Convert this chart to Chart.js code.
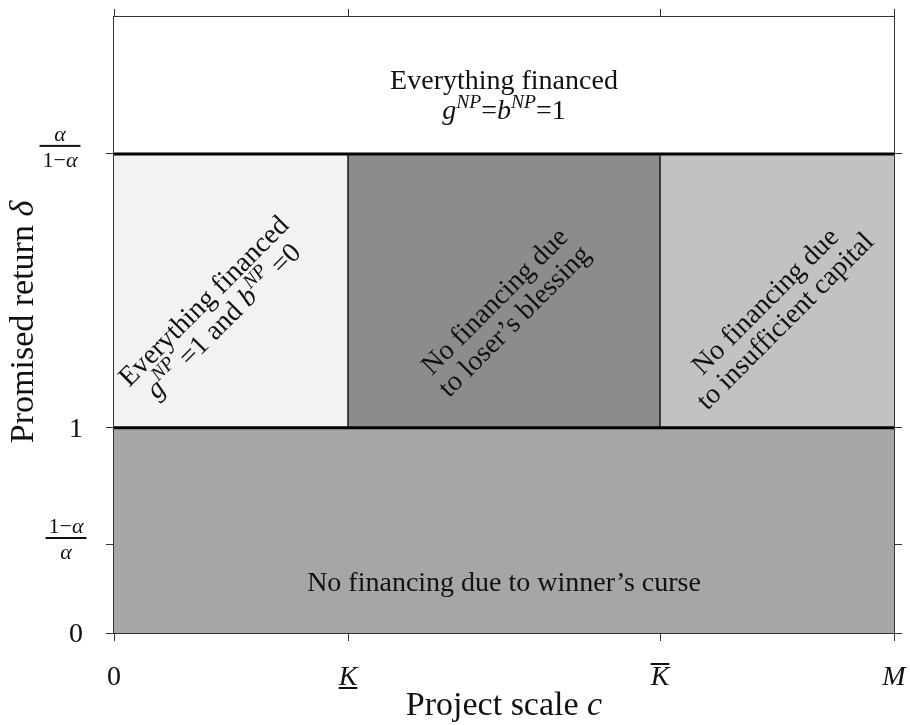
<!DOCTYPE html>
<html>
<head>
<meta charset="utf-8">
<script src="https://cdn.jsdelivr.net/npm/chart.js@4.4.0/dist/chart.umd.min.js"></script>
<style>
html, body { margin: 0; padding: 0; background: #fff; }
</style>
</head>
<body>
<canvas id="myChart" width="910" height="725"></canvas>
<script>
// axis ticks (M = 1, alpha = 0.7)
let xTicks = [0, 0.3, 0.7, 1];
let xTickNames = ['0', 'K', 'K', 'M'];
let yTicks = [0, 0.4286, 1, 2.3333];
let yTickNames = ['0', '(1-a)/a', '1', 'a/(1-a)'];

// regions: top, left, middle, right, bottom
let regionLeft = [0, 0, 0.3, 0.7, 0];
let regionRight = [1, 0.3, 0.7, 1, 1];
let regionBottom = [2.3333, 1, 1, 1, 0];
let regionTop = [3, 2.3333, 2.3333, 2.3333, 1];

let boundaryY = [1, 2.3333];
let boundaryX = [0.3, 0.7];

let regionColors = ['#ffffff', '#f2f2f2', '#8c8c8c', '#c2c2c2', '#a6a6a6'];

const serif = '"Liberation Serif", "DejaVu Serif", serif';

// region labels as runs of text: [text, italic, superscript]
let regionText = [
    [[['Everything financed']], [['g', 1], ['NP', 1, 1], ['='], ['b', 1], ['NP', 1, 1], ['=1']]],
    [[['Everything financed']], [['g', 1], ['NP', 1, 1], [' =1 and '], ['b', 1], ['NP', 1, 1], [' =0']]],
    [[['No financing due']], [['to loser\u2019s blessing']]],
    [[['No financing due']], [['to insufficient capital']]],
    [[['No financing due to winner\u2019s curse']]]
];
let labelAt = [
    { x: 0.5, y: 2.62, rot: 0, gap: 30 },
    { x: 0.127, y: 1.57, rot: -45, gap: 28 },
    { x: 0.5, y: 1.57, rot: -45, gap: 28 },
    { x: 0.847, y: 1.57, rot: -45, gap: 28 },
    { x: 0.5, y: 0.25, rot: 0, gap: 0 }
];

function fontFor(run, size) {
    let s = run[2] ? size * 0.7 : size;
    return (run[1] ? 'italic ' : '') + s + 'px ' + serif;
}

function runsWidth(ctx, runs, size) {
    let w = 0;
    runs.forEach(r => { ctx.font = fontFor(r, size); w += ctx.measureText(r[0]).width; });
    return w;
}

function drawRuns(ctx, runs, x, y, size) {
    let w = runsWidth(ctx, runs, size);
    let cx = x - w / 2;
    ctx.textAlign = 'left';
    ctx.textBaseline = 'alphabetic';
    runs.forEach(r => {
        ctx.font = fontFor(r, size);
        let base = y + size * 0.33 - (r[2] ? size * 0.42 : 0);
        ctx.fillText(r[0], cx, base);
        cx += ctx.measureText(r[0]).width;
    });
}

function drawFrac(ctx, top, bottom, x, y, size) {
    let wt = runsWidth(ctx, top, size);
    let wb = runsWidth(ctx, bottom, size);
    let w = Math.max(wt, wb) + 6;
    ctx.fillRect(x - w / 2, y - 1, w, 2);
    drawRuns(ctx, top, x, y - size * 0.55, size);
    drawRuns(ctx, bottom, x, y + size * 0.62, size);
}

const labelPlugin = {
    id: 'labelPlugin',
    afterDraw(chart) {
        let ctx = chart.ctx;
        let xs = chart.scales.x;
        let ys = chart.scales.y;
        let area = chart.chartArea;
        ctx.save();
        ctx.fillStyle = '#111';

        // region texts
        regionText.forEach((lines, i) => {
            let p = labelAt[i];
            ctx.save();
            ctx.translate(xs.getPixelForValue(p.x), ys.getPixelForValue(p.y));
            ctx.rotate(p.rot * Math.PI / 180);
            lines.forEach((runs, j) => {
                let dy = (j - (lines.length - 1) / 2) * p.gap;
                drawRuns(ctx, runs, 0, dy, 28);
            });
            ctx.restore();
        });

        // x tick labels
        let ty = 676;
        xTicks.forEach((v, i) => {
            let px = xs.getPixelForValue(v);
            let name = xTickNames[i];
            let italic = name !== '0';
            drawRuns(ctx, [[name, italic]], px, ty, 28);
            if (i === 1 || i === 2) {
                ctx.font = 'italic 28px ' + serif;
                let w = ctx.measureText(name).width;
                let ly = i === 1 ? ty + 11 : ty - 13;
                ctx.fillRect(px - w / 2, ly, w, 2);
            }
        });

        // y tick labels
        yTicks.forEach((v, i) => {
            let py = ys.getPixelForValue(v);
            if (i === 0 || i === 2) {
                drawRuns(ctx, [[yTickNames[i]]], area.left - 38, py, 28);
            } else if (i === 1) {
                drawFrac(ctx, [['1\u2212'], ['\u03b1', 1]], [['\u03b1', 1]], area.left - 48, py - 7, 22);
            } else {
                drawFrac(ctx, [['\u03b1', 1]], [['1\u2212'], ['\u03b1', 1]], area.left - 54, py - 8, 22);
            }
        });

        // axis titles
        drawRuns(ctx, [['Project scale '], ['c', 1]], (area.left + area.right) / 2, 704, 34);
        ctx.save();
        ctx.translate(22, 322);
        ctx.rotate(-Math.PI / 2);
        drawRuns(ctx, [['Promised return '], ['\u03b4', 1]], 0, 0, 34);
        ctx.restore();

        ctx.restore();
    }
};

let datasets = [];
boundaryY.forEach(v => {
    datasets.push({
        data: [{ x: 0, y: v }, { x: 1, y: v }],
        borderColor: '#000', borderWidth: 3, fill: false
    });
});
boundaryX.forEach(v => {
    datasets.push({
        data: [{ x: v, y: boundaryY[0] }, { x: v, y: boundaryY[1] }],
        borderColor: '#000', borderWidth: 1.3, fill: false
    });
});
regionLeft.forEach((x0, i) => {
    datasets.push({
        data: [{ x: x0, y: regionTop[i] }, { x: regionRight[i], y: regionTop[i] }],
        borderWidth: 0, borderColor: 'rgba(0,0,0,0)',
        backgroundColor: regionColors[i],
        fill: { value: regionBottom[i] }
    });
});

function tickAxis(pos, min, max, values) {
    return {
        type: 'linear', position: pos, min: min, max: max, z: 1,
        afterBuildTicks: (axis) => { axis.ticks = values.map(v => ({ value: v })); },
        ticks: { display: false },
        grid: { drawOnChartArea: false, tickLength: 8, color: '#333', lineWidth: 1 },
        border: { display: true, color: '#333', width: 2 }
    };
}

let ctx = document.getElementById('myChart').getContext('2d');
let myChart = new Chart(ctx, {
    type: 'scatter',
    data: { datasets: datasets },
    options: {
        responsive: false,
        animation: false,
        showLine: true,
        elements: { point: { radius: 0 }, line: { tension: 0 } },
        layout: { padding: { left: 106, right: 8, top: 9, bottom: 84 } },
        plugins: { legend: { display: false }, tooltip: { enabled: false } },
        scales: {
            x: tickAxis('bottom', 0, 1, xTicks),
            x2: tickAxis('top', 0, 1, xTicks),
            y: tickAxis('left', 0, 3, yTicks),
            y2: tickAxis('right', 0, 3, yTicks)
        }
    },
    plugins: [labelPlugin]
});
</script>
</body>
</html>
